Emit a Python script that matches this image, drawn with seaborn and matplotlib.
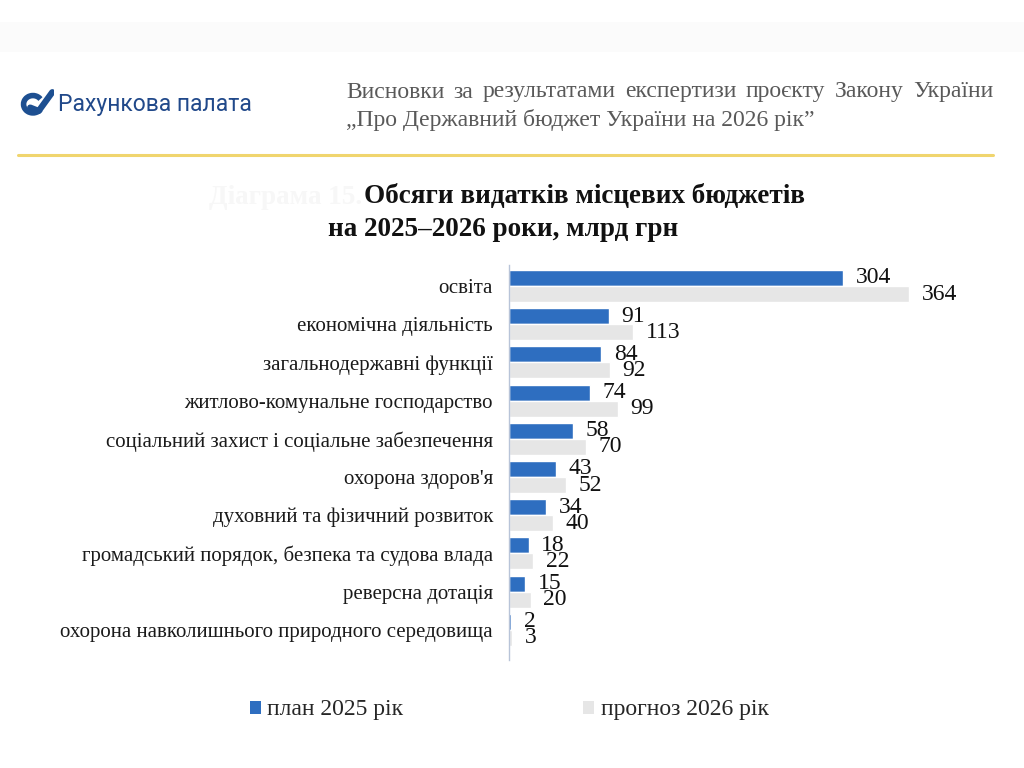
import numpy as np
import pandas as pd
import seaborn as sns
import matplotlib.pyplot as plt
from matplotlib.patches import Rectangle, Arc, Patch

# ==========================================
# 1. DATA
# ==========================================
categories = [
    "освіта",
    "економічна діяльність",
    "загальнодержавні функції",
    "житлово-комунальне господарство",
    "соціальний захист і соціальне забезпечення",
    "охорона здоров'я",
    "духовний та фізичний розвиток",
    "громадський порядок, безпека та судова влада",
    "реверсна дотація",
    "охорона навколишнього природного середовища",
]
plan_2025 = [304, 91, 84, 74, 58, 43, 34, 18, 15, 2]
forecast_2026 = [364, 113, 92, 99, 70, 52, 40, 22, 20, 3]
series_names = ["план 2025 рік", "прогноз 2026 рік"]

df = pd.DataFrame({
    "category": categories * 2,
    "value": plan_2025 + forecast_2026,
    "series": [series_names[0]] * len(categories) + [series_names[1]] * len(categories),
})

BLUE = "#2e6ec0"
GREY = "#e6e6e6"

# ==========================================
# 2. FIGURE
# ==========================================
sns.set_style("white")
plt.rcParams["font.family"] = ["Liberation Serif", "DejaVu Serif"]

W, H = 1024, 768
fig = plt.figure(figsize=(W / 100, H / 100), dpi=100)


def px(x, y):
    # pixel coords (top-left origin) -> figure fraction
    return x / W, 1 - y / H


# faint band at the top of the page
fig.patches.append(Rectangle(px(0, 52), 1, 30 / H, transform=fig.transFigure,
                             facecolor="#fbfbfb", edgecolor="none", zorder=0))

# logo
icon = fig.add_axes([20 / W, 1 - 116 / H, 34 / W, 28 / H])
icon.set_xlim(0, 1)
icon.set_ylim(0, 1)
icon.axis("off")
icon.add_patch(Arc((0.38, 0.42), 0.55, 0.62, theta1=40, theta2=320, lw=4, color="#1d4f91"))
icon.plot([0.3, 0.55, 0.95], [0.3, 0.18, 0.85], color="#1d4f91", lw=4.5, solid_capstyle="round")
fig.text(*px(58, 104), "Рахункова палата", family="Roboto", fontsize=16.5,
         color="#21498a", va="center", ha="left")

# header text, first line justified
header_words = "Висновки за результатами експертизи проєкту Закону України".split()
renderer = fig.canvas.get_renderer()
word_objs = [fig.text(0, 0, w, fontsize=17, color="#595959", va="center") for w in header_words]
widths = [t.get_window_extent(renderer).width for t in word_objs]
gap = (993 - 346 - sum(widths)) / (len(widths) - 1)
xpos = 346
for t, wdt in zip(word_objs, widths):
    t.set_position(px(xpos, 92))
    xpos += wdt + gap
fig.text(*px(346, 120), "„Про Державний бюджет України на 2026 рік”", fontsize=17,
         color="#595959", va="center", ha="left")

# yellow rule
fig.lines.append(plt.Line2D([18 / W, 993 / W], [1 - 155 / H] * 2, transform=fig.transFigure,
                            color="#f0d56e", lw=2.2))

# title
fig.text(*px(362, 197), "Діаграма 15.", fontsize=19.5, weight="bold", color="#f7f7f7",
         ha="right", va="center")
fig.text(*px(364, 197), "Обсяги видатків місцевих бюджетів", fontsize=19.5, weight="bold",
         color="#111111", ha="left", va="center")
fig.text(*px(328, 230), "на 2025–2026 роки, млрд грн", fontsize=19.5, weight="bold",
         color="#111111", ha="left", va="center")

# ==========================================
# 3. BAR CHART
# ==========================================
ax_left, ax_right, ax_top, ax_bottom = 509, 990, 265, 660
ax = fig.add_axes([ax_left / W, 1 - ax_bottom / H, (ax_right - ax_left) / W, (ax_bottom - ax_top) / H])

sns.barplot(data=df, y="category", x="value", hue="series", orient="h",
            palette=[BLUE, GREY], saturation=1, width=0.84, ax=ax, legend=False)

for cont in ax.containers:
    ax.bar_label(cont, fontsize=17, padding=9, color="#111111")

ax.set_xlim(0, (ax_right - ax_left) / 1.099)
ax.set_ylim(len(categories) - 1 + 0.79, -0.55)
ax.set_xlabel("")
ax.set_ylabel("")
ax.set_xticks([])
ax.tick_params(axis="y", length=0, pad=11.5, labelsize=15, labelcolor="#1a1a1a")
for side in ["top", "right", "bottom"]:
    ax.spines[side].set_visible(False)
ax.spines["left"].set_color("#b8c4d8")
ax.spines["left"].set_linewidth(1)

handles = [Patch(facecolor=BLUE, edgecolor="none"), Patch(facecolor=GREY, edgecolor="none")]
fig.legend(handles, series_names, loc="center left", bbox_to_anchor=px(250, 710),
           ncol=2, frameon=False, fontsize=17, handlelength=0.47, handleheight=0.47,
           handletextpad=0.27, columnspacing=7.6, borderpad=0, borderaxespad=0)

fig.savefig("out.png", dpi=100, facecolor="white")
